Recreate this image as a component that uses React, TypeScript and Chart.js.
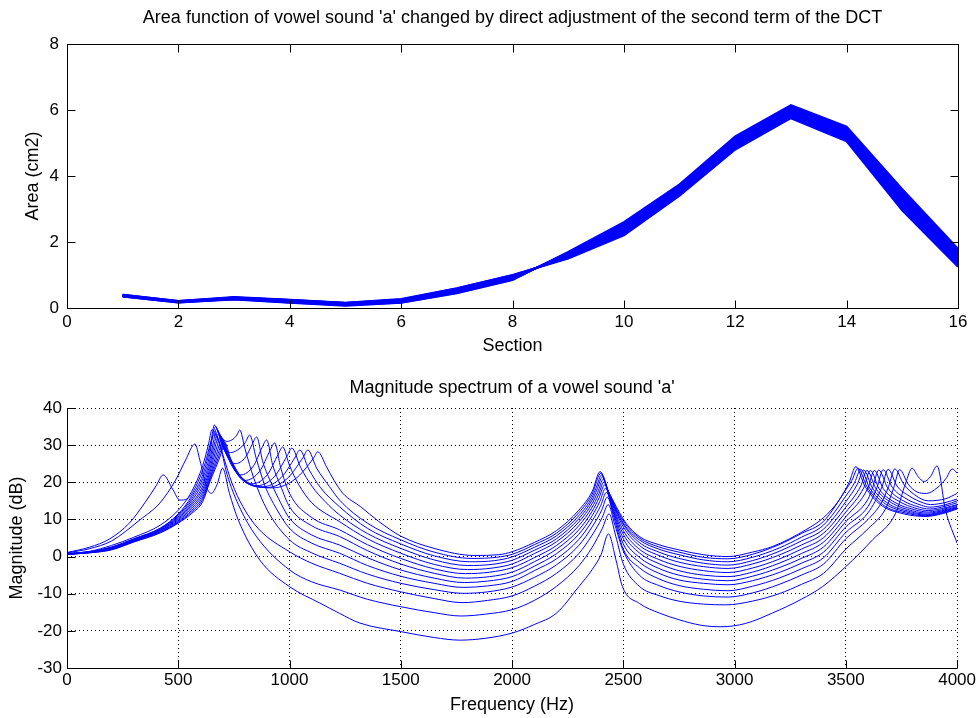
import React, { useEffect, useRef } from 'react';
import { Chart, registerables } from 'chart.js';
Chart.register(...registerables);

// ---------- Top plot: area functions (cm2) per section ----------
const sections = [1, 2, 3, 4, 5, 6, 7, 8, 9, 10, 11, 12, 13, 14, 15, 16];
const area00 = [0.40, 0.21, 0.33, 0.25, 0.16, 0.27, 0.60, 1.00, 1.50, 2.20, 3.40, 4.80, 5.75, 5.05, 2.95, 1.25];
const area01 = [0.40, 0.21, 0.32, 0.24, 0.15, 0.26, 0.59, 0.99, 1.52, 2.23, 3.43, 4.83, 5.78, 5.09, 3.00, 1.30];
const area02 = [0.39, 0.20, 0.32, 0.24, 0.15, 0.25, 0.58, 0.98, 1.53, 2.27, 3.46, 4.87, 5.82, 5.13, 3.06, 1.34];
const area03 = [0.39, 0.20, 0.31, 0.23, 0.14, 0.24, 0.56, 0.96, 1.55, 2.30, 3.49, 4.90, 5.85, 5.16, 3.11, 1.39];
const area04 = [0.38, 0.20, 0.31, 0.22, 0.13, 0.23, 0.55, 0.95, 1.57, 2.33, 3.52, 4.93, 5.88, 5.20, 3.17, 1.43];
const area05 = [0.38, 0.19, 0.30, 0.21, 0.12, 0.22, 0.54, 0.94, 1.58, 2.37, 3.55, 4.97, 5.92, 5.24, 3.22, 1.48];
const area06 = [0.38, 0.19, 0.30, 0.21, 0.12, 0.22, 0.53, 0.93, 1.60, 2.40, 3.58, 5.00, 5.95, 5.28, 3.28, 1.52];
const area07 = [0.37, 0.19, 0.29, 0.20, 0.11, 0.21, 0.51, 0.91, 1.62, 2.43, 3.60, 5.03, 5.98, 5.31, 3.33, 1.57];
const area08 = [0.37, 0.18, 0.28, 0.19, 0.10, 0.20, 0.50, 0.90, 1.63, 2.47, 3.63, 5.07, 6.02, 5.35, 3.38, 1.62];
const area09 = [0.36, 0.18, 0.28, 0.18, 0.09, 0.19, 0.49, 0.89, 1.65, 2.50, 3.66, 5.10, 6.05, 5.39, 3.44, 1.66];
const area10 = [0.36, 0.18, 0.27, 0.18, 0.09, 0.18, 0.48, 0.88, 1.67, 2.53, 3.69, 5.13, 6.08, 5.43, 3.49, 1.71];
const area11 = [0.35, 0.17, 0.27, 0.17, 0.08, 0.17, 0.46, 0.86, 1.68, 2.57, 3.72, 5.17, 6.12, 5.46, 3.55, 1.75];
const area12 = [0.35, 0.17, 0.26, 0.16, 0.07, 0.16, 0.45, 0.85, 1.70, 2.60, 3.75, 5.20, 6.15, 5.50, 3.60, 1.80];
const areaCurves = [area00, area01, area02, area03, area04, area05, area06, area07, area08, area09, area10, area11, area12];

// ---------- Bottom plot: magnitude spectra [Hz, dB] ----------
const spec00 = [[0,1.0],[100,2.1],[200,4.2],[328,9.9],[417,14.4],[488,20.6],[533,26],[575,30.3],[597,26],[627,18.8],[648,17],[675,19.5],[699,23.8],[730,17],[770,9.8],[866,-0.9],[1000,-8.1],[1136,-12.5],[1225,-15.3],[1316,-17.9],[1500,-20.2],[1650,-21.8],[1765,-22.5],[1880,-22],[2000,-20.6],[2100,-18.3],[2200,-15.2],[2300,-8.1],[2360,-3.5],[2400,0.5],[2433,6.1],[2467,-0.9],[2496,-8.1],[2572,-12.6],[2662,-15.2],[2750,-17],[2850,-18.5],[2939,-18.9],[3050,-18],[3170,-15.2],[3300,-11.5],[3395,-8.1],[3500,-2.7],[3620,4.5],[3724,11.7],[3769,19.8],[3798,23.8],[3825,21.5],[3852,20.2],[3880,21.5],[3910,24.4],[3948,12.5],[4000,3.6]];
const spec01 = [[0,1.1],[100,2.5],[193,4.8],[280,9],[350,14.5],[400,19],[432,22],[476,18],[507,15.2],[540,15.5],[580,19],[620,25],[645,30.5],[662,33],[685,30.5],[720,22],[770,14],[850,5.5],[1000,-3.6],[1100,-6.8],[1225,-9.0],[1350,-11.5],[1500,-13.5],[1650,-15.1],[1770,-16],[1880,-15.5],[2000,-14.3],[2100,-11.8],[2200,-8],[2300,-2.5],[2360,2.5],[2405,7.5],[2436,11.5],[2466,5.5],[2500,-2],[2572,-8],[2660,-10.5],[2750,-12],[2860,-12.8],[2960,-13],[3080,-12],[3200,-10],[3300,-7.5],[3400,-4.5],[3500,2],[3600,7.5],[3680,13],[3715,18.5],[3742,23.4],[3780,19.5],[3820,17.4],[3862,17],[3910,18.5],[3950,21],[3978,23.6],[4000,22.5]];
const spec02 = [[0,0.8],[100,1.4],[200,3],[300,5.2],[420,8.5],[500,12.5],[560,17.5],[610,24.5],[635,30],[652,34.2],[675,32],[705,26.5],[740,20],[790,13.5],[860,7.5],[1000,1.3],[1100,-1.8],[1225,-4.5],[1350,-7.2],[1500,-9.5],[1650,-11.3],[1775,-12.4],[1890,-11.8],[2000,-10.6],[2100,-8],[2200,-4.5],[2300,0.8],[2360,5.8],[2405,10.5],[2432,14],[2462,8.5],[2500,1.5],[2572,-5],[2660,-7.8],[2750,-9.5],[2860,-10.6],[2970,-10.9],[3080,-9.8],[3200,-7.5],[3300,-5],[3400,-2],[3500,4.8],[3600,10],[3660,14.5],[3692,18.8],[3720,23.6],[3760,19.5],[3810,16.6],[3870,15],[3950,15.6],[4000,17]];
const spec03 = [[0,0.8],[100,1.3],[200,2.6],[300,4.8],[420,7.7],[500,11.5],[560,16.2],[610,22],[640,28.5],[652,32.8],[662,35.4],[690,32.5],[718,31],[750,31.8],[766,33],[776,34.1],[800,29],[840,21],[900,12.5],[1000,4.5],[1100,1],[1225,-1.8],[1350,-4.7],[1500,-7.2],[1650,-8.9],[1780,-9.9],[1890,-9.5],[2000,-8.2],[2100,-5.6],[2200,-2.2],[2300,3],[2360,8],[2403,12.5],[2428,16],[2458,10.5],[2500,2],[2572,-3],[2660,-6],[2750,-7.8],[2860,-8.8],[2970,-9.2],[3080,-8],[3200,-5.8],[3300,-3.3],[3400,-0.3],[3500,6.5],[3600,11.8],[3662,18.7],[3690,23.5],[3730,19],[3785,16.3],[3850,14.4],[3880,14],[3950,14.6],[4000,15.5]];
const spec04 = [[0,0.8],[100,1.3],[200,2.5],[300,4.7],[420,7.6],[500,11.2],[560,15.6],[610,21],[640,27],[655,32.5],[667,35],[695,30.5],[735,28],[778,29.2],[801,30.7],[821,32.7],[850,26.5],[890,19],[940,13],[1000,7.6],[1100,3.6],[1225,0.9],[1350,-2.4],[1500,-5.3],[1650,-7.2],[1780,-8.3],[1890,-7.9],[2000,-6.7],[2100,-3.8],[2200,-0.6],[2300,4.6],[2360,9.6],[2399,13.8],[2424,17.3],[2454,12],[2500,3.4],[2572,-1.5],[2660,-4.5],[2750,-6.3],[2860,-7.2],[2970,-7.6],[3080,-6.5],[3200,-4.3],[3300,-1.8],[3400,1.2],[3500,8],[3600,13.5],[3640,18.6],[3668,23.4],[3708,18.7],[3765,15.8],[3840,13.8],[3877,13.3],[3950,14],[4000,15]];
const spec05 = [[0,0.7],[100,1.2],[200,2.4],[300,4.6],[420,7.4],[500,10.9],[560,15],[610,20],[640,25.5],[660,31.5],[672,34.4],[700,29.5],[755,25],[803,26.8],[832,30.2],[852,32.2],[880,25.5],[920,19.5],[960,14.5],[1000,10.3],[1100,5.8],[1225,3.1],[1350,-0.3],[1500,-3.6],[1650,-5.8],[1785,-7],[1890,-6.6],[2000,-5.4],[2100,-2.6],[2200,0.8],[2300,6],[2360,11],[2395,14.9],[2420,18.4],[2450,13.2],[2500,4.8],[2572,-0.2],[2660,-3.2],[2750,-5],[2860,-6.1],[2970,-6.5],[3080,-5.3],[3200,-3],[3300,-0.5],[3400,2.6],[3500,9.4],[3600,15.5],[3620,18.5],[3648,23.3],[3688,18.5],[3750,15.3],[3830,13.3],[3875,12.8],[3950,13.6],[4000,14.5]];
const spec06 = [[0,0.7],[100,1.2],[200,2.3],[300,4.5],[420,7.3],[500,10.6],[560,14.4],[610,19],[640,24.3],[665,31],[677,33.8],[705,29],[780,22],[838,24.4],[877,29.4],[897,31.4],[925,24.5],[960,19],[1000,13.4],[1100,8.3],[1225,5.4],[1350,1.6],[1500,-2],[1650,-4.5],[1790,-5.8],[1900,-5.4],[2000,-4.2],[2100,-1.4],[2200,2],[2300,7.2],[2360,12.2],[2391,15.8],[2416,19.3],[2446,14.3],[2500,6],[2572,1],[2660,-1.9],[2750,-3.8],[2860,-5],[2970,-5.4],[3080,-4.2],[3200,-1.8],[3300,0.8],[3400,3.9],[3500,10.7],[3600,18.5],[3628,23.2],[3668,18.3],[3735,15],[3820,12.9],[3872,12.4],[3950,13.2],[4000,14]];
const spec07 = [[0,0.7],[100,1.2],[200,2.2],[300,4.4],[420,7.1],[500,10.3],[560,13.9],[610,18.2],[640,23.2],[670,30.5],[682,33.2],[710,28.7],[800,20.5],[866,23],[913,28.6],[933,30.6],[960,24],[1000,17],[1100,10.5],[1225,7.2],[1350,3.2],[1500,-0.5],[1650,-3.3],[1790,-4.6],[1900,-4.2],[2000,-3],[2100,-0.3],[2200,3],[2300,8.3],[2360,13.3],[2388,16.6],[2413,20.1],[2443,15.2],[2500,7],[2572,2],[2660,-0.8],[2750,-2.6],[2860,-3.8],[2970,-4.3],[3080,-3.1],[3200,-0.7],[3300,2],[3400,5.1],[3500,12],[3582,18.7],[3610,23.2],[3650,18.2],[3720,14.6],[3810,12.6],[3870,12],[3950,12.9],[4000,13.8]];
const spec08 = [[0,0.7],[100,1.1],[200,2.2],[300,4.3],[420,7],[500,10],[560,13.4],[610,17.4],[640,22.3],[676,30.1],[688,32.6],[716,28.1],[830,19.6],[900,22],[949,27.5],[969,29.5],[1000,24.5],[1040,19.5],[1100,14.5],[1225,9.4],[1350,4.8],[1500,0.9],[1650,-2.1],[1800,-3.5],[1910,-3.1],[2000,-2],[2100,0.8],[2200,4],[2300,9.3],[2360,14.3],[2385,17.3],[2410,20.8],[2440,16],[2500,8],[2572,3],[2660,0.3],[2750,-1.5],[2860,-2.7],[2970,-3.2],[3080,-2],[3200,0.4],[3300,3.1],[3400,6.3],[3500,13.3],[3567,19],[3595,23.2],[3635,18.3],[3705,14.5],[3800,12.3],[3867,11.7],[3950,12.6],[4000,13.5]];
const spec09 = [[0,0.6],[100,1.1],[200,2.1],[300,4.2],[420,6.8],[500,9.7],[560,12.9],[610,16.7],[640,21.5],[681,29.5],[693,32],[721,27.5],[775,21.5],[855,19.1],[933,21.6],[990,27.2],[1010,29.2],[1050,24],[1100,19],[1160,14.8],[1225,11.2],[1350,6.2],[1500,2.2],[1650,-0.9],[1800,-2.4],[1910,-2.1],[2000,-1],[2100,1.7],[2200,4.8],[2300,10.2],[2360,15.2],[2381,17.9],[2406,21.4],[2436,16.8],[2500,8.7],[2572,3.8],[2660,1.2],[2750,-0.5],[2860,-1.8],[2970,-2.3],[3080,-1.1],[3200,1.4],[3300,4.2],[3400,7.4],[3500,14.8],[3552,19.5],[3580,23.3],[3620,18.4],[3690,14.3],[3790,12.1],[3865,11.4],[3950,12.4],[4000,13.3]];
const spec10 = [[0,0.6],[100,1.1],[200,2],[300,4.1],[420,6.7],[500,9.4],[560,12.4],[610,16],[640,20.8],[686,29],[698,31.5],[726,27],[780,21.2],[880,18.8],[963,21.3],[1026,26.8],[1046,28.7],[1086,23.6],[1140,18.5],[1225,13.4],[1350,7.6],[1500,3.4],[1650,0.2],[1810,-1.4],[1920,-1.1],[2000,-0.1],[2100,2.5],[2200,5.6],[2300,11],[2360,16],[2378,18.5],[2403,22],[2433,17.4],[2500,9],[2572,4.5],[2660,2],[2750,0.5],[2860,-0.9],[2970,-1.4],[3080,-0.2],[3200,2.3],[3300,5.2],[3400,8.5],[3500,16.3],[3540,20],[3567,23.5],[3607,18.5],[3677,14.2],[3780,11.9],[3862,11.2],[3950,12.2],[4000,13.1]];
const spec11 = [[0,0.6],[100,1],[200,1.9],[300,4],[420,6.5],[500,9.2],[560,12],[610,15.4],[640,20.3],[691,28.6],[703,31.1],[731,26.6],[785,21],[900,18.6],[991,21.1],[1062,26.8],[1082,28.7],[1122,23.8],[1180,18.8],[1225,15.2],[1350,9],[1500,4.5],[1650,1.2],[1820,-0.5],[1930,-0.2],[2000,0.6],[2100,3.2],[2200,6.3],[2300,11.8],[2360,16.8],[2400,22.5],[2430,18],[2500,9.6],[2572,5],[2660,2.6],[2750,1.2],[2860,-0.2],[2970,-0.6],[3080,0.6],[3200,3.2],[3300,6.2],[3400,9.5],[3500,18],[3527,20.5],[3555,23.8],[3595,18.8],[3665,14],[3770,11.7],[3860,11],[3950,12],[4000,13]];
const spec12 = [[0,0.6],[100,1],[200,1.8],[300,3.9],[420,6.4],[500,9],[560,11.6],[610,14.8],[640,19.8],[696,28.3],[708,30.8],[736,26.3],[790,21],[925,18.5],[1026,20.9],[1107,26.4],[1127,28.2],[1166,24.2],[1200,20.5],[1240,17],[1320,13.4],[1400,9.5],[1500,5.5],[1650,2.2],[1830,0.3],[1940,0.5],[2000,1.3],[2100,3.8],[2200,7],[2300,12.5],[2360,17.5],[2396,22.9],[2426,18.5],[2453,15.2],[2512,9],[2572,5.4],[2660,3.2],[2750,1.8],[2860,0.5],[2970,0],[3080,1.2],[3170,2.7],[3320,7.2],[3400,10.5],[3470,15.2],[3515,20],[3545,24.2],[3585,19],[3655,14],[3760,11.5],[3860,10.8],[3950,11.8],[4000,12.8]];
const specCurves = [spec00, spec01, spec02, spec03, spec04, spec05, spec06, spec07, spec08, spec09, spec10, spec11, spec12];

const FONT = "'Liberation Sans', Arial, Helvetica, sans-serif";
const BLUE = '#0000ff';

function decor(title: string, titleY: number, box: boolean) {
  return {
    id: 'decor',
    afterDraw(chart: any) {
      const { ctx, chartArea: a, scales } = chart;
      const xs = scales.x;
      const ys = scales.y;
      const L = 8;
      const al = (v: number) => Math.round(v) + 0.5;
      ctx.save();
      ctx.setLineDash([]);
      ctx.strokeStyle = '#000';
      ctx.lineWidth = 1;
      ctx.beginPath();
      const left = al(a.left), right = al(a.right), top = al(a.top), bottom = al(a.bottom);
      ctx.moveTo(left, top); ctx.lineTo(left, bottom); ctx.lineTo(right, bottom);
      if (box) { ctx.lineTo(right, top); ctx.lineTo(left, top); }
      xs.ticks.forEach((t: any) => {
        const px = al(xs.getPixelForValue(t.value));
        ctx.moveTo(px, bottom); ctx.lineTo(px, bottom - L);
        if (box) { ctx.moveTo(px, top); ctx.lineTo(px, top + L); }
      });
      ys.ticks.forEach((t: any) => {
        const py = al(ys.getPixelForValue(t.value));
        ctx.moveTo(left, py); ctx.lineTo(left + L, py);
        if (box) { ctx.moveTo(right, py); ctx.lineTo(right - L, py); }
      });
      ctx.stroke();
      ctx.fillStyle = '#000';
      ctx.font = `18px ${FONT}`;
      ctx.textAlign = 'center';
      ctx.textBaseline = 'middle';
      ctx.fillText(title, (a.left + a.right) / 2, titleY);
      ctx.restore();
    },
  };
}

export default function App() {
  const c1 = useRef<HTMLCanvasElement>(null);
  const c2 = useRef<HTMLCanvasElement>(null);

  useEffect(() => {
    const tickFont = { family: FONT, size: 17 };
    const titleFont = { family: FONT, size: 18 };
    const fmt = (v: any) => String(v);

    const chart1 = new Chart(c1.current as HTMLCanvasElement, {
      type: 'line',
      data: {
        datasets: areaCurves.map((arr) => ({
          data: sections.map((s, i) => ({ x: s, y: arr[i] })),
          borderColor: BLUE,
          borderWidth: 2,
          pointRadius: 0,
          tension: 0,
          fill: false,
        })),
      },
      options: {
        animation: false,
        responsive: false,
        devicePixelRatio: 1,
        layout: { padding: { top: 44, right: 20, left: 0, bottom: 0 } },
        plugins: { legend: { display: false }, tooltip: { enabled: false } },
        scales: {
          x: {
            type: 'linear', min: 0, max: 16,
            ticks: { stepSize: 2, font: tickFont, color: '#000', padding: 4, callback: fmt, autoSkip: false, maxRotation: 0 },
            grid: { display: false, drawTicks: false },
            border: { display: false },
            title: { display: true, text: 'Section', font: titleFont, color: '#000', padding: { top: 0, bottom: 3.2 } },
            afterFit: (s: any) => { s.height = 52; },
          },
          y: {
            type: 'linear', min: 0, max: 8,
            ticks: { stepSize: 2, font: tickFont, color: '#000', padding: 8, callback: fmt },
            grid: { display: false, drawTicks: false },
            border: { display: false },
            title: { display: true, text: 'Area (cm2)', font: titleFont, color: '#000', padding: { top: 22.2, bottom: 0 } },
            afterFit: (s: any) => { s.width = 67; },
          },
        },
      } as any,
      plugins: [decor("Area function of vowel sound 'a' changed by direct adjustment of the second term of the DCT", 18, true)],
    });

    const chart2 = new Chart(c2.current as HTMLCanvasElement, {
      type: 'line',
      data: {
        datasets: specCurves.map((arr) => ({
          data: arr.map(([f, d]) => ({ x: f, y: d })),
          borderColor: BLUE,
          borderWidth: 1,
          pointRadius: 0,
          cubicInterpolationMode: 'monotone',
          fill: false,
        })),
      },
      options: {
        animation: false,
        responsive: false,
        devicePixelRatio: 1,
        layout: { padding: { top: 48, right: 20, left: 0, bottom: 0 } },
        plugins: { legend: { display: false }, tooltip: { enabled: false } },
        scales: {
          x: {
            type: 'linear', min: 0, max: 4000,
            ticks: { stepSize: 500, font: tickFont, color: '#000', padding: 2, callback: fmt, autoSkip: false, maxRotation: 0 },
            grid: { display: true, drawTicks: false, color: '#000', lineWidth: 1 },
            border: { display: false, dash: [1, 3] },
            title: { display: true, text: 'Frequency (Hz)', font: titleFont, color: '#000', padding: { top: 0, bottom: 14.2 } },
            afterFit: (s: any) => { s.height = 62; },
          },
          y: {
            type: 'linear', min: -30, max: 40,
            ticks: { stepSize: 10, font: tickFont, color: '#000', padding: 5, callback: fmt },
            grid: { display: true, drawTicks: false, color: '#000', lineWidth: 1 },
            border: { display: false, dash: [1, 3] },
            title: { display: true, text: 'Magnitude (dB)', font: titleFont, color: '#000', padding: { top: 6.7, bottom: 0 } },
            afterFit: (s: any) => { s.width = 67; },
          },
        },
      } as any,
      plugins: [decor("Magnitude spectrum of a vowel sound 'a'", 28, false)],
    });

    return () => {
      chart1.destroy();
      chart2.destroy();
    };
  }, []);

  return (
    <div style={{ position: 'fixed', left: 0, top: 0, width: 978, height: 718, overflow: 'hidden', background: '#fff' }}>
      <canvas ref={c1} width={978} height={360} style={{ position: 'absolute', left: 0, top: 0, width: 978, height: 360 }} />
      <canvas ref={c2} width={978} height={370} style={{ position: 'absolute', left: 0, top: 360, width: 978, height: 370 }} />
    </div>
  );
}
